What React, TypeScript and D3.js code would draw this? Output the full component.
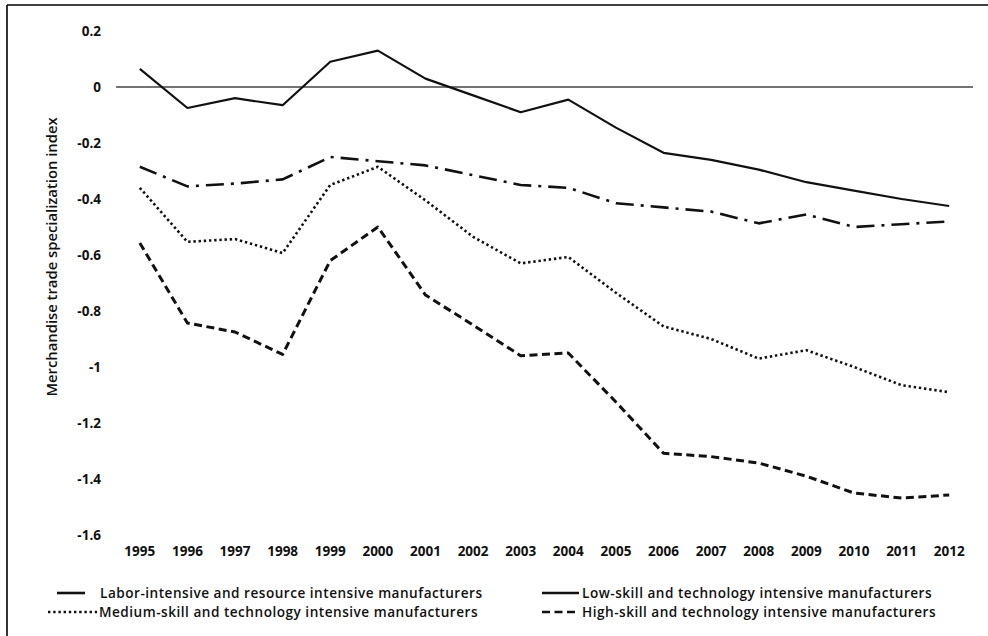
import React from "react";
import * as d3 from "d3";

const years = ["1995","1996","1997","1998","1999","2000","2001","2002","2003","2004","2005","2006","2007","2008","2009","2010","2011","2012"];
const laborIntensive = [-0.285,-0.355,-0.345,-0.33,-0.25,-0.265,-0.28,-0.315,-0.35,-0.36,-0.415,-0.43,-0.445,-0.487,-0.455,-0.5,-0.49,-0.48];
const lowSkill = [0.065,-0.075,-0.04,-0.065,0.09,0.13,0.03,-0.03,-0.09,-0.045,-0.145,-0.235,-0.26,-0.295,-0.34,-0.37,-0.4,-0.425];
const mediumSkill = [-0.36,-0.553,-0.543,-0.593,-0.35,-0.285,-0.405,-0.535,-0.63,-0.607,-0.735,-0.855,-0.9,-0.97,-0.94,-1.0,-1.065,-1.09];
const highSkill = [-0.557,-0.843,-0.875,-0.955,-0.62,-0.5,-0.743,-0.85,-0.96,-0.95,-1.125,-1.308,-1.32,-1.343,-1.39,-1.45,-1.468,-1.457];
const yTicks = [0.2,0,-0.2,-0.4,-0.6,-0.8,-1,-1.2,-1.4,-1.6];
const seriesNames = [
  "Labor-intensive and resource intensive manufacturers",
  "Low-skill and technology intensive manufacturers",
  "Medium-skill and technology intensive manufacturers",
  "High-skill and technology intensive manufacturers",
];

const FONT = "'Open Sans', 'Noto Sans', sans-serif";

export default function App() {
  const x = d3.scaleBand<string>().domain(years).range([116, 973]).padding(0);
  const y = d3.scaleLinear().domain([-1.6, 0.2]).range([535, 31]);
  const cx = (yr: string) => (x(yr) as number) + x.bandwidth() / 2;
  const line = d3.line<number>().x((_, i) => cx(years[i])).y((v) => y(v));

  const series = [
    { name: seriesNames[0], values: laborIntensive, dash: "18,7,3,7", width: 2.6 },
    { name: seriesNames[1], values: lowSkill, dash: "none", width: 2.2 },
    { name: seriesNames[2], values: mediumSkill, dash: "2.4,2.8", width: 2.6 },
    { name: seriesNames[3], values: highSkill, dash: "8,4.5", width: 3 },
  ];

  const legend = [
    { s: series[0], x1: 57, x2: 85, tx: 100, ty: 593, dash: "none" },
    { s: series[1], x1: 542, x2: 579, tx: 582, ty: 593, dash: "none" },
    { s: series[2], x1: 48, x2: 97, tx: 99, ty: 612, dash: "2.4,2.8" },
    { s: series[3], x1: 542, x2: 579, tx: 582, ty: 612, dash: "8,4.5" },
  ];

  return (
    <svg width={988} height={636} style={{ position: "absolute", left: 0, top: 0, background: "#fff" }} fontFamily={FONT}>
      <rect x={0} y={0} width={988} height={636} fill="#fff" />
      <line x1={7} y1={5} x2={988} y2={5} stroke="#000" strokeWidth={1.6} />
      <line x1={7} y1={5} x2={7} y2={636} stroke="#000" strokeWidth={1.6} />
      <line x1={x.range()[0]} x2={x.range()[1]} y1={y(0)} y2={y(0)} stroke="#444" strokeWidth={1.3} />
      {yTicks.map((t) => (
        <text key={t} x={101} y={y(t)} dy="0.35em" textAnchor="end" fontSize={13.5} fontWeight={700} fill="#111">
          {t === 0 ? "0" : String(t)}
        </text>
      ))}
      {years.map((yr) => (
        <text key={yr} x={cx(yr)} y={551} dy="0.35em" textAnchor="middle" fontSize={13.5} fontWeight={700} fill="#111">
          {yr}
        </text>
      ))}
      <text transform={`translate(52,257) rotate(-90)`} textAnchor="middle" dy="0.35em" fontSize={14.8} fontWeight={600} fill="#111">
        Merchandise trade specialization index
      </text>
      {series.map((s) => (
        <path key={s.name} d={line(s.values) as string} fill="none" stroke="#111" strokeWidth={s.width}
          strokeDasharray={s.dash} strokeLinejoin="round" />
      ))}
      {legend.map((l) => (
        <g key={l.s.name}>
          <line x1={l.x1} x2={l.x2} y1={l.ty} y2={l.ty} stroke="#111" strokeWidth={2.6} strokeDasharray={l.dash} />
          <text x={l.tx} y={l.ty} dy="0.35em" fontSize={13.6} letterSpacing={0.5} fontWeight={600} fill="#111">{l.s.name}</text>
        </g>
      ))}
    </svg>
  );
}
